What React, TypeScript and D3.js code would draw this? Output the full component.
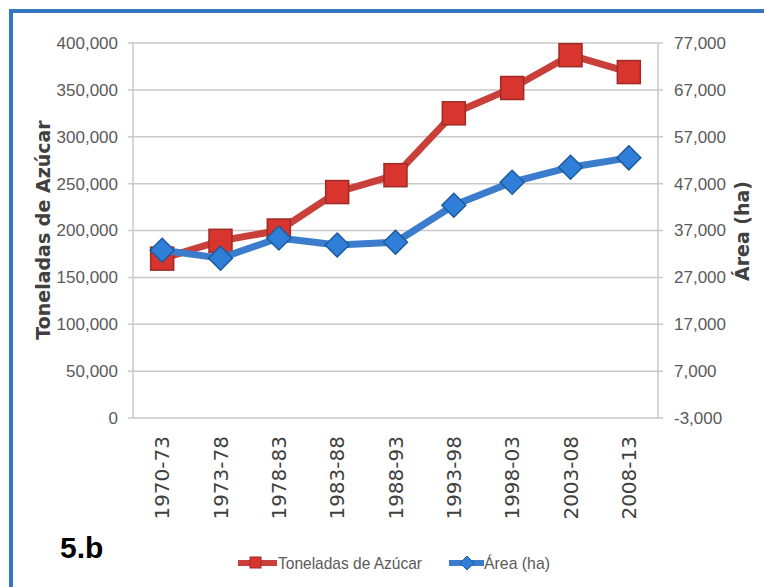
import React from "react";
import * as d3 from "d3";

const periods = ["1970-73", "1973-78", "1978-83", "1983-88", "1988-93", "1993-98", "1998-03", "2003-08", "2008-13"];
const toneladas = [170000, 189000, 200000, 241000, 259000, 325000, 352000, 387000, 369000];
const area = [32800, 31100, 35400, 33900, 34500, 42400, 47300, 50500, 52500];
const leftTicks = [0, 50000, 100000, 150000, 200000, 250000, 300000, 350000, 400000];
const rightTicks = [-3000, 7000, 17000, 27000, 37000, 47000, 57000, 67000, 77000];

const W = 764;
const H = 587;
const plot = { left: 133, right: 658, top: 43, bottom: 418 };

const narrow = "'Liberation Sans Narrow', 'Arial Narrow', 'Liberation Sans', sans-serif";
const wide = "'DejaVu Sans', sans-serif";

const RED_LINE = "#c9403a";
const RED_FILL = "#d8352e";
const RED_EDGE = "#9e2b25";
const BLUE_LINE = "#3b7ccc";
const BLUE_FILL = "#2f7fd8";
const BLUE_EDGE = "#1d5a9e";

// thousands separator with a plain hyphen for negatives
const fmt = (v: number) => d3.format(",")(v).replace("\u2212", "-");

export default function App() {
  const x = d3.scaleBand<string>().domain(periods).range([plot.left, plot.right]).padding(0);
  const cx = (p: string) => (x(p) ?? 0) + x.bandwidth() / 2;
  const yL = d3.scaleLinear().domain([0, 400000]).range([plot.bottom, plot.top]);
  const yR = d3.scaleLinear().domain([-3000, 77000]).range([plot.bottom, plot.top]);

  const redLine = d3
    .line<number>()
    .x((_, i) => cx(periods[i]))
    .y((d) => yL(d));
  const blueLine = d3
    .line<number>()
    .x((_, i) => cx(periods[i]))
    .y((d) => yR(d));

  const sq = 23;
  const dm = 12;

  return (
    <svg width={W} height={H} style={{ position: "absolute", left: 0, top: 0, background: "#fff" }}>
      {/* frame */}
      <line x1={11} y1={9} x2={11} y2={H} stroke="#3476c0" strokeWidth={4} />
      <line x1={9} y1={11} x2={W} y2={11} stroke="#3476c0" strokeWidth={4} />

      {/* gridlines */}
      {leftTicks.map((t) => (
        <line key={t} x1={plot.left - 5} x2={plot.right + 5} y1={yL(t)} y2={yL(t)} stroke="#c9c9c9" strokeWidth={1.5} />
      ))}
      <line x1={plot.left} x2={plot.left} y1={plot.top} y2={plot.bottom} stroke="#c9c9c9" strokeWidth={1.5} />
      <line x1={plot.right} x2={plot.right} y1={plot.top} y2={plot.bottom} stroke="#c9c9c9" strokeWidth={1.5} />

      {/* left tick labels */}
      {leftTicks.map((t) => (
        <text key={t} x={118} y={yL(t)} dy="0.35em" textAnchor="end" fontFamily={narrow} fontSize={17} fill="#5a5a5a">
          {fmt(t)}
        </text>
      ))}
      {/* right tick labels */}
      {rightTicks.map((t) => (
        <text key={t} x={674} y={yR(t)} dy="0.35em" textAnchor="start" fontFamily={narrow} fontSize={17} fill="#5a5a5a">
          {fmt(t)}
        </text>
      ))}

      {/* category labels */}
      {periods.map((p) => (
        <text
          key={p}
          transform={`translate(${cx(p)},${plot.bottom + 18}) rotate(-90)`}
          textAnchor="end"
          dy="0.35em"
          fontFamily={wide}
          fontSize={20}
          fill="#404040"
        >
          {p}
        </text>
      ))}

      {/* axis titles */}
      <text transform="translate(43,230) rotate(-90)" textAnchor="middle" dy="0.35em" fontFamily={wide} fontWeight="bold" fontSize={19} fill="#404040">
        Toneladas de Azúcar
      </text>
      <text transform="translate(742,231) rotate(-90)" textAnchor="middle" dy="0.35em" fontFamily={wide} fontWeight="bold" fontSize={19} fill="#404040">
        Área (ha)
      </text>

      {/* Toneladas series */}
      <path d={redLine(toneladas) ?? ""} fill="none" stroke={RED_LINE} strokeWidth={7} strokeLinejoin="round" />
      {toneladas.map((v, i) => (
        <rect
          key={periods[i]}
          x={cx(periods[i]) - sq / 2}
          y={yL(v) - sq / 2}
          width={sq}
          height={sq}
          fill={RED_FILL}
          stroke={RED_EDGE}
          strokeWidth={1.5}
        />
      ))}

      {/* Area series */}
      <path d={blueLine(area) ?? ""} fill="none" stroke={BLUE_LINE} strokeWidth={7} strokeLinejoin="round" />
      {area.map((v, i) => {
        const px = cx(periods[i]);
        const py = yR(v);
        return (
          <path
            key={periods[i]}
            d={`M${px},${py - dm}L${px + dm},${py}L${px},${py + dm}L${px - dm},${py}Z`}
            fill={BLUE_FILL}
            stroke={BLUE_EDGE}
            strokeWidth={1.5}
          />
        );
      })}

      {/* legend */}
      <g>
        <line x1={238} x2={277} y1={563} y2={563} stroke={RED_LINE} strokeWidth={6} />
        <rect x={250} y={557} width={11} height={11} fill={RED_FILL} stroke={RED_EDGE} strokeWidth={1} />
        <text x={278} y={563} dy="0.35em" fontFamily={narrow} fontSize={17} fill="#5a5a5a" textLength={144} lengthAdjust="spacingAndGlyphs">
          Toneladas de Azúcar
        </text>
        <line x1={449} x2={484} y1={563} y2={563} stroke={BLUE_LINE} strokeWidth={6} />
        <path d="M467,556L474,563L467,570L460,563Z" fill={BLUE_FILL} stroke={BLUE_EDGE} strokeWidth={1} />
        <text x={484} y={563} dy="0.35em" fontFamily={narrow} fontSize={17} fill="#5a5a5a" textLength={66} lengthAdjust="spacingAndGlyphs">
          Área (ha)
        </text>
      </g>

      {/* panel tag */}
      <text x={60} y={558} fontFamily="'Liberation Sans', sans-serif" fontWeight="bold" fontSize={30} fill="#000">
        5.b
      </text>
    </svg>
  );
}
